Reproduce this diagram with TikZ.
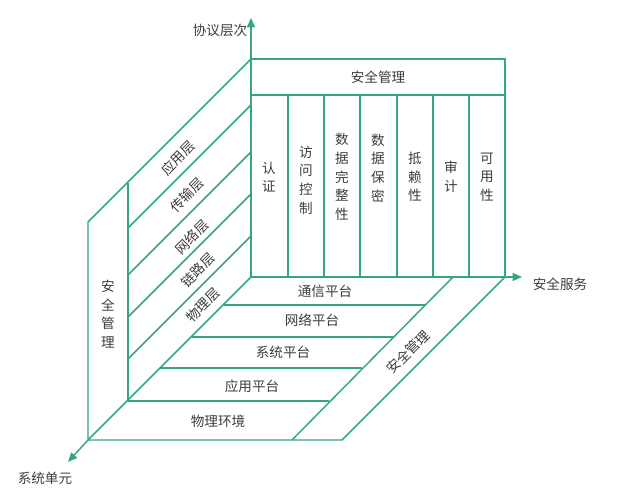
\documentclass[tikz,border=0pt]{standalone}
\usepackage{fontspec}
\setmainfont{Noto Sans CJK SC}
\usetikzlibrary{arrows.meta}
\definecolor{edge}{RGB}{52,168,124}
\definecolor{ink}{RGB}{60,60,60}
\tikzset{
  frame/.style={draw=edge, line width=1.1pt},
  axis/.style={draw=edge, line width=1.1pt, -{Triangle[length=7pt,width=6pt]}},
  lbl/.style={text=ink, font=\fontsize{10.2}{14}\selectfont, align=center, inner sep=0pt},
}
\begin{document}
\begin{tikzpicture}[x=0.75pt, y=-0.75pt]
  \useasboundingbox (0,0) rectangle (633,500);
  % axes
  \coordinate (o) at (251,277);
  \draw[axis] (o) -- (251,18);
  \draw[axis] (o) -- (522,277);
  \draw[axis] (88,440) -- (68,462);
  \node[lbl] (ylab) at (220,30) {协议层次};
  \node[lbl] (xlab) at (560,284) {安全服务};
  \node[lbl] (zlab) at (45,478) {系统单元};
  % front face
  \draw[frame] (251,59) rectangle (505,277);
  \draw[frame] (251,95) -- (505,95);
  \foreach \x in {288,324,360,397,433,469}
    \draw[frame] (\x,95) -- (\x,277);
  \node[lbl] (top) at (378,77) {安全管理};
  \node[lbl] (s1) at (269,177) {认\\证};
  \node[lbl] (s2) at (306,180) {访\\问\\控\\制};
  \node[lbl] (s3) at (342,177) {数\\据\\完\\整\\性};
  \node[lbl] (s4) at (378,168) {数\\据\\保\\密};
  \node[lbl] (s5) at (415,177) {抵\\赖\\性};
  \node[lbl] (s6) at (451,177) {审\\计};
  \node[lbl] (s7) at (487,177) {可\\用\\性};
  % left face
  \draw[frame] (251,59) -- (88,222) -- (88,440) -- (o);
  \draw[frame] (128,183) -- (128,401);
  \foreach \y in {105,152,194,236}
    \draw[frame] (251,\y) -- ++(-123,123);
  \node[lbl] (lm) at (108,314) {安\\全\\管\\理};
  \node[lbl, rotate=45] (l1) at (178,158) {应用层};
  \node[lbl, rotate=45] (l2) at (187,195) {传输层};
  \node[lbl, rotate=45] (l3) at (192,237) {网络层};
  \node[lbl, rotate=45] (l4) at (198,270) {链路层};
  \node[lbl, rotate=45] (l5) at (203,305) {物理层};
  % bottom face
  \draw[frame] (88,440) -- (342,440) -- (505,277);
  \draw[frame] (453,277) -- (292,440);
  \foreach \y in {305,337,368,401}
    \draw[frame] (251-\y+277,\y) -- (453-\y+277,\y);
  \node[lbl] (b1) at (325,291) {通信平台};
  \node[lbl] (b2) at (312,320) {网络平台};
  \node[lbl] (b3) at (283,352) {系统平台};
  \node[lbl] (b4) at (252,386) {应用平台};
  \node[lbl] (b5) at (218,421) {物理环境};
  \node[lbl, rotate=45] (bm) at (408,352) {安全管理};
\end{tikzpicture}
\end{document}
